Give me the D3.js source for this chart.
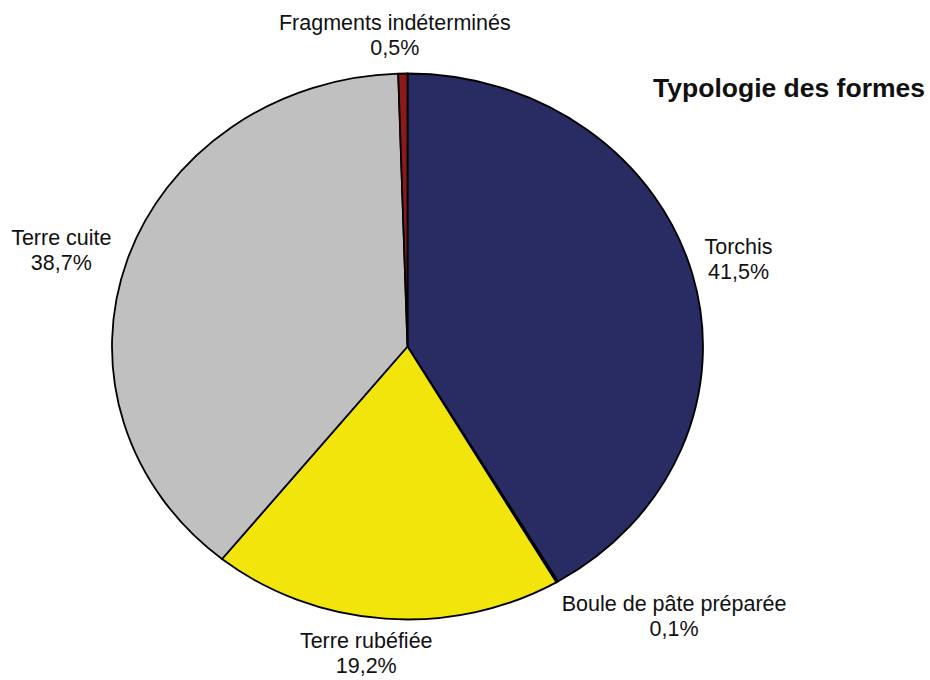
<!DOCTYPE html>
<html>
<head>
<meta charset="utf-8">
<script src="https://cdn.jsdelivr.net/npm/d3@7"></script>
<style>
  html, body { margin: 0; padding: 0; background: #fff; }
  svg { display: block; }
  text { font-family: "Liberation Sans", Arial, sans-serif; fill: #111; }
</style>
</head>
<body>
<svg id="chart" width="930" height="680"></svg>
<script>
// ---- data ----
const categories = ["Torchis", "Boule de pâte préparée", "Terre rubéfiée", "Terre cuite", "Fragments indéterminés"];
const values = [41.5, 0.1, 19.2, 38.7, 0.5];
const valueLabels = ["41,5%", "0,1%", "19,2%", "38,7%", "0,5%"];
const colors = ["#292c62", "#4d9fd6", "#f2e50b", "#c0c0c0", "#8c1a1a"];
const title = "Typologie des formes";

// ---- layout ----
const W = 930, H = 680;
const cx = 407.5, cy = 346.5, rx = 295.5, ry = 273;
// label offsets (px) from the slice's outer-edge midpoint to the label's first baseline centre
const labelOffsets = [[46, -20], [117, 29], [-19, 29], [-66, -15], [-8, -44]];
const lineGap = 25;

const svg = d3.select("#chart");

const pie = d3.pie().sort(null).value(d => d.v).startAngle(0).endAngle(2 * Math.PI);
const data = categories.map((c, i) => ({ c, v: values[i], lab: valueLabels[i], col: colors[i], off: labelOffsets[i] }));
const arcs = pie(data);

const arc = d3.arc().innerRadius(0).outerRadius(ry);

const g = svg.append("g").attr("transform", `translate(${cx},${cy}) scale(${rx / ry},1)`);
g.selectAll("path")
  .data(arcs)
  .join("path")
  .attr("d", arc)
  .attr("fill", d => d.data.col)
  .attr("stroke", "#000")
  .attr("stroke-width", 1.8)
  .attr("stroke-linejoin", "round")
  .attr("vector-effect", "non-scaling-stroke");

// labels
const lg = svg.append("g");
arcs.forEach(a => {
  const m = (a.startAngle + a.endAngle) / 2;
  const ex = cx + rx * Math.sin(m);
  const ey = cy - ry * Math.cos(m);
  const x = ex + a.data.off[0];
  const y = ey + a.data.off[1];
  const t = lg.append("text")
    .attr("text-anchor", "middle")
    .attr("font-size", "21.5px");
  t.append("tspan").attr("x", x).attr("y", y).text(a.data.c);
  t.append("tspan").attr("x", x).attr("y", y + lineGap).text(a.data.lab);
});

svg.append("text")
  .attr("x", 925)
  .attr("y", 97)
  .attr("text-anchor", "end")
  .attr("font-size", "26.5px")
  .attr("font-weight", "bold")
  .text(title);
</script>
</body>
</html>
